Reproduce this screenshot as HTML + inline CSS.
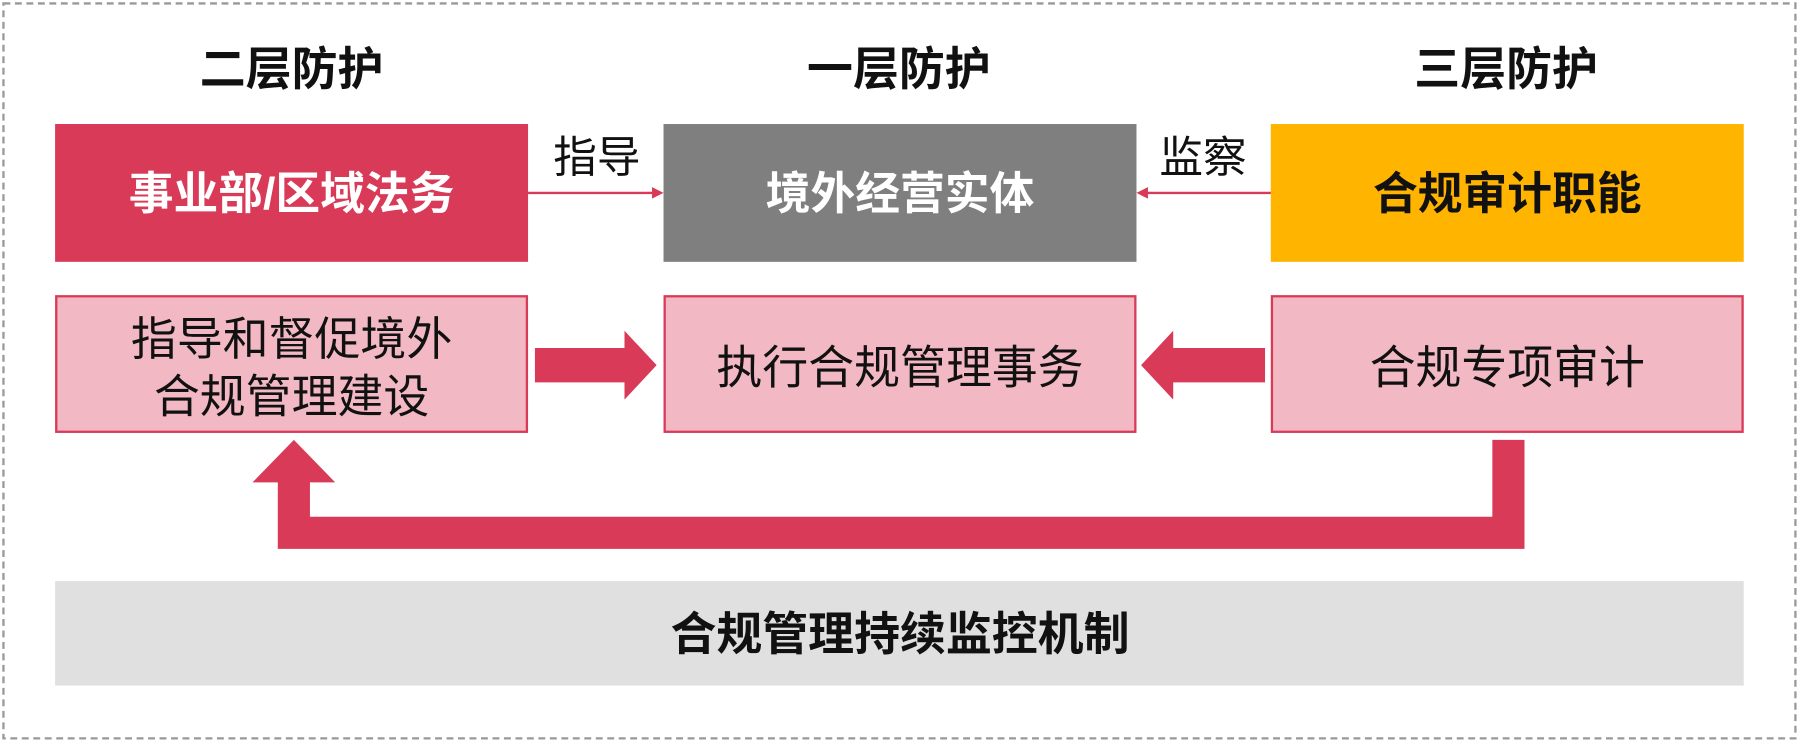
<!DOCTYPE html>
<html><head><meta charset="utf-8"><style>
html,body{margin:0;padding:0;background:#fff;}
svg{display:block;}
text{font-family:"Liberation Sans","Noto Sans CJK SC",sans-serif;}
</style></head><body>
<svg width="1800" height="743" viewBox="0 0 1568 647" preserveAspectRatio="none" xmlns="http://www.w3.org/2000/svg">
<rect x="0" y="0" width="1568" height="647" fill="#fff"/>
<rect x="3" y="3" width="1561" height="640" fill="none" stroke="#999" stroke-width="2" stroke-dasharray="6,4"/>
<g font-size="40" font-weight="bold" fill="#111" text-anchor="middle">
<text x="254" y="74">二层防护</text>
<text x="783" y="74">一层防护</text>
<text x="1312" y="74">三层防护</text>
</g>
<rect x="48" y="108" width="412" height="120" fill="#d83a58"/>
<rect x="578" y="108" width="412" height="120" fill="#7f7f7f"/>
<rect x="1107" y="108" width="412" height="120" fill="#ffb400"/>
<g font-size="39" font-weight="bold" text-anchor="middle">
<text x="254" y="182" fill="#fff">事业部/区域法务</text>
<text x="784" y="182" fill="#fff">境外经营实体</text>
<text x="1313" y="182" fill="#111">合规审计职能</text>
</g>
<line x1="460" y1="168" x2="570" y2="168" stroke="#d83a58" stroke-width="2"/>
<polygon points="578,168 568,163 568,173" fill="#d83a58"/>
<line x1="1107" y1="168" x2="998" y2="168" stroke="#d83a58" stroke-width="2"/>
<polygon points="990,168 1000,163 1000,173" fill="#d83a58"/>
<g font-size="38" fill="#111" text-anchor="middle">
<text x="520" y="150">指导</text>
<text x="1048" y="150">监察</text>
</g>
<rect x="49" y="258" width="410" height="118" fill="#f2b9c4" stroke="#d83a58" stroke-width="2"/>
<rect x="579" y="258" width="410" height="118" fill="#f2b9c4" stroke="#d83a58" stroke-width="2"/>
<rect x="1108" y="258" width="410" height="118" fill="#f2b9c4" stroke="#d83a58" stroke-width="2"/>
<g font-size="40" fill="#111" text-anchor="middle">
<text x="254" y="309">指导和督促境外</text>
<text x="254" y="359">合规管理建设</text>
<text x="784" y="334">执行合规管理事务</text>
<text x="1313" y="334">合规专项审计</text>
</g>
<polygon points="466,303 544,303 544,288 572,318 544,348 544,333 466,333" fill="#d83a58"/>
<polygon points="1102,303 1022,303 1022,288 994,318 1022,348 1022,333 1102,333" fill="#d83a58"/>
<polygon points="1300,383 1328,383 1328,478 242,478 242,420 220,420 256,383 292,420 270,420 270,450 1300,450" fill="#d83a58"/>
<rect x="48" y="506" width="1471" height="91" fill="#e0e0e0"/>
<text x="784" y="566" font-size="40" font-weight="bold" fill="#111" text-anchor="middle">合规管理持续监控机制</text>
</svg>
</body></html>
